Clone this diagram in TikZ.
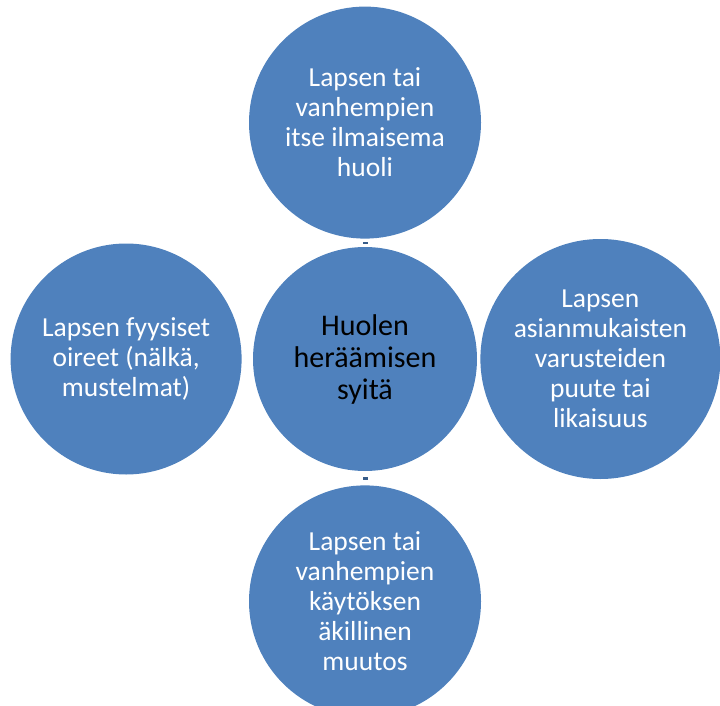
\documentclass[tikz,border=0pt]{standalone}
\usepackage{fontspec}
\setmainfont{Carlito}
\usetikzlibrary{positioning}

\definecolor{ballblue}{HTML}{4F81BD}
\definecolor{spokeblue}{HTML}{385D8A}

\begin{document}
\begin{tikzpicture}[
  x=1pt, y=1pt,
  ball/.style={shape=circle, fill=ballblue, inner sep=0pt,
    align=center, text=white, font=\fontsize{27.5}{30}\selectfont},
  hubball/.style={ball, text=black, font=\fontsize{30}{32}\selectfont},
  gapmark/.style={shape=rectangle, fill=spokeblue, inner sep=0pt}
  ]
  \useasboundingbox (0,0) rectangle (720,-706);
  \node[hubball, minimum size=224pt] (hub) at (365,-359)
    {Huolen\\heräämisen\\syitä};
  \node[ball, minimum size=232pt, above=8pt of hub] (top)
    {Lapsen tai\\vanhempien\\itse ilmaisema\\huoli};
  \node[ball, minimum size=240pt, right=3pt of hub] (right)
    {Lapsen\\asianmukaisten\\varusteiden\\puute tai\\likaisuus};
  \node[ball, minimum size=232pt, below=14pt of hub] (bottom)
    {Lapsen tai\\vanhempien\\käytöksen\\äkillinen\\muutos};
  \node[ball, minimum size=231pt, left=11pt of hub] (left)
    {Lapsen fyysiset\\oireet (nälkä,\\mustelmat)};
  % tiny spokes left between the circles
  \path (top.south) -- (hub.north)
    node[gapmark, midway, minimum width=5pt, minimum height=1.5pt] (spoketop) {};
  \path (hub.south) -- (bottom.north)
    node[gapmark, midway, minimum width=5pt, minimum height=3pt] (spokebottom) {};
\end{tikzpicture}
\end{document}
